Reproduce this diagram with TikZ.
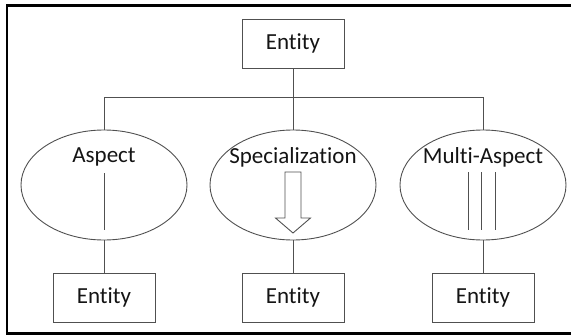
\documentclass[tikz,border=0pt]{standalone}
\usepackage{fontspec}
\setmainfont{Carlito}[Ligatures={NoCommon}]
\usetikzlibrary{shapes.geometric,calc}
\definecolor{linec}{RGB}{80,80,80}
\definecolor{textc}{RGB}{20,20,20}
\begin{document}
\begin{tikzpicture}[x=1pt,y=-1pt,
  every node/.style={outer sep=0pt,inner sep=0pt,text=textc,
    font=\fontsize{23}{27}\selectfont},
  entbox/.style={draw=linec,line width=0.9pt,minimum width=102pt,minimum height=49pt},
  relell/.style={draw=linec,line width=0.9pt,ellipse,minimum width=166pt,minimum height=110pt},
  conn/.style={draw=linec,line width=0.9pt},
  frame/.style={draw=black,line width=2.2pt}]
\useasboundingbox (0,0) rectangle (571,335);
% outer frame (open on the right)
\draw[frame] (571.5,5.5) -- (7,5.5) -- (7,333.5) -- (571.5,333.5);

% top entity
\node[entbox] (top) at (293,43.5) {Entity};

% relation ellipses
\node[relell] (e1) at (104,185) {};
\node[relell] (e2) at (293,185) {};
\node[relell] (e3) at (483,185) {};
\node (l1) at ($(e1.center)+(0,-28)$) {Aspect};
\node (l2) at ($(e2.center)+(0,-28)$) {Specialization};
\node (l3) at ($(e3.center)+(0,-28)$) {Multi-Aspect};

% bottom entities
\node[entbox] (b1) at (104,297.5) {Entity};
\node[entbox] (b2) at (293,297.5) {Entity};
\node[entbox] (b3) at (483,297.5) {Entity};

% bus from the top entity to the ellipses
\coordinate (bus) at (293,97);
\draw[conn] (top.south) -- (e2.north);
\draw[conn] (e1.north) -- (e1.north |- bus) -- (e3.north |- bus) -- (e3.north);

% ellipses to bottom entities
\draw[conn] (e1.south) -- (b1.north);
\draw[conn] (e2.south) -- (b2.north);
\draw[conn] (e3.south) -- (b3.north);

% aspect symbol: single line
\draw[conn] ($(e1.center)+(0,-12)$) -- ($(e1.center)+(0,45)$);

% specialization symbol: hollow down arrow
\draw[conn,line join=miter]
  ($(e2.center)+(-8,-13)$) -- ($(e2.center)+(8,-13)$) -- ($(e2.center)+(8,33)$)
  -- ($(e2.center)+(17.5,33)$) -- ($(e2.center)+(0,48)$) -- ($(e2.center)+(-17.5,33)$)
  -- ($(e2.center)+(-8,33)$) -- cycle;

% multi-aspect symbol: three lines
\foreach \dx in {-15,-1.5,12}
  \draw[conn] ($(e3.center)+(\dx,-13)$) -- ($(e3.center)+(\dx,45)$);
\end{tikzpicture}
\end{document}
